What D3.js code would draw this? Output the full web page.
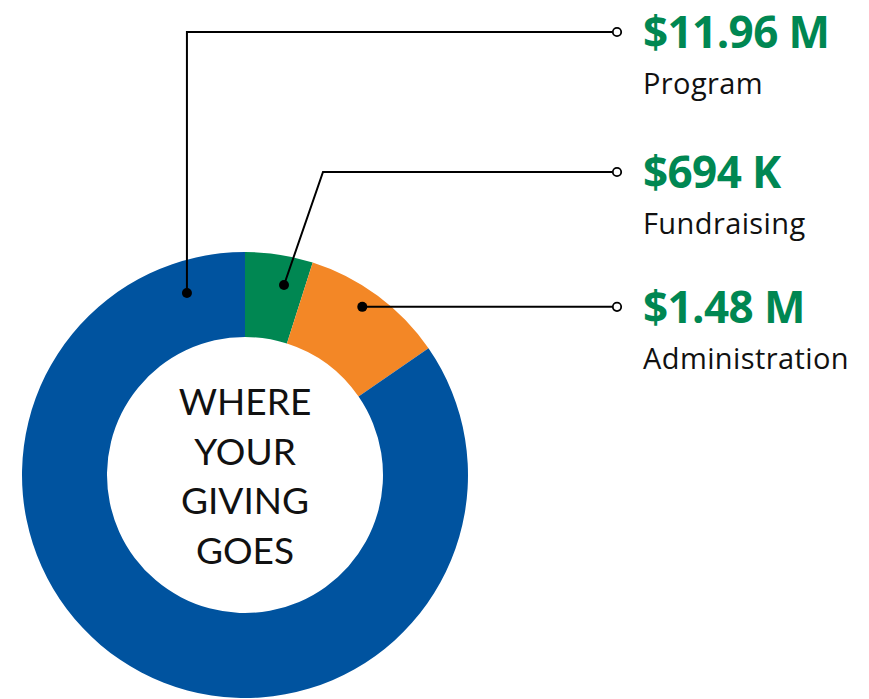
<!DOCTYPE html>
<html><head><meta charset="utf-8">
<script src="https://cdn.jsdelivr.net/npm/d3@7"></script>
<style>body{margin:0;background:#fff}svg{display:block}</style>
</head><body>
<svg id="c" width="869" height="699"></svg>
<script>
const categories = ["Fundraising", "Administration", "Program"];
const values = [0.694, 1.48, 11.96];
const valueLabels = ["$694 K", "$1.48 M", "$11.96 M"];
const colors = ["#008752", "#f38726", "#00539f"];
// leader layout: angle(deg) and radius of anchor dot, label row y
const anchorAngle = [11.6, 34.9, -17.7];
const anchorRadius = [194, 205, 191];
const rowY = [172, 307, 32];

const svg = d3.select("#c");
const cx = 245, cy = 475, R = 223, r0 = 138;
const g = svg.append("g").attr("transform", `translate(${cx},${cy})`);
const pie = d3.pie().sort(null).value(d => d)(values);
const arc = d3.arc().innerRadius(r0).outerRadius(R);
g.selectAll("path").data(pie).join("path").attr("d", arc).attr("fill", (d,i)=>colors[i]);

const ctext = ["WHERE","YOUR","GIVING","GOES"];
g.selectAll("text.c").data(ctext).join("text").attr("class","c")
 .attr("x",0).attr("y",(d,i)=>-60+i*49.5).attr("text-anchor","middle")
 .attr("font-family","Lato, 'Open Sans', sans-serif").attr("font-size",37).attr("fill","#111").text(d=>d);

const endX = 617;
categories.forEach((c,i)=>{
  const a = anchorAngle[i]*Math.PI/180;
  const ax = cx + anchorRadius[i]*Math.sin(a), ay = cy - anchorRadius[i]*Math.cos(a);
  let pts;
  if (i===0) pts = [[ax,ay],[323,rowY[i]],[endX-4.5,rowY[i]]];
  else if (i===1) pts = [[ax,ay],[endX-4.5,ay]];
  else pts = [[ax,ay],[ax,rowY[i]],[endX-4.5,rowY[i]]];
  const y = (i===1)? ay : rowY[i];
  svg.append("path").attr("d", d3.line()(pts)).attr("fill","none").attr("stroke","#000").attr("stroke-width",2);
  svg.append("circle").attr("cx",ax).attr("cy",ay).attr("r",5).attr("fill","#000");
  svg.append("circle").attr("cx",endX).attr("cy",y).attr("r",4.2).attr("fill","#fff").attr("stroke","#000").attr("stroke-width",1.8);
  svg.append("text").attr("x",643).attr("y",y+16).attr("font-family","'Open Sans', sans-serif").attr("font-weight",700)
    .attr("font-size",44).attr("letter-spacing",-0.6).attr("fill","#008752").text(valueLabels[i]);
  svg.append("text").attr("x",643).attr("y",y+62).attr("font-family","'Open Sans', sans-serif")
    .attr("font-size",29).attr("letter-spacing",0.4).attr("fill","#111").text(c);
});
</script>
</body></html>
